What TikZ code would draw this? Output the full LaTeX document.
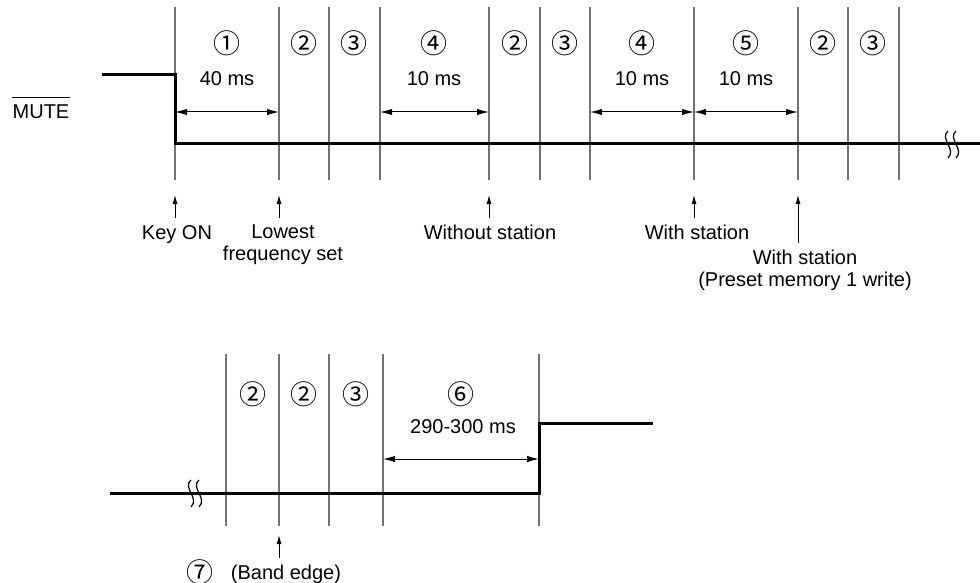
\documentclass[tikz,border=0pt]{standalone}
\usepackage{fontspec}
\setmainfont{Liberation Sans}
\newfontfamily\cjk{Noto Sans CJK JP}
\usetikzlibrary{arrows.meta}

\newcommand{\circnum}[1]{{\cjk\fontsize{13.5}{13.5}\selectfont #1}}

\begin{document}
\begin{tikzpicture}[x = 0.5pt, y = -0.5pt, font = \fontsize{10}{10.8}\selectfont,
	muteline/.style = {line width = 1.5pt},
	slotline/.style = {black!55, line width = 0.6pt},
	spanarrow/.style = {{Latex[length = 6pt, width = 3.2pt]}-{Latex[length = 6pt, width = 3.2pt]}, line width = 0.5pt},
	eventarrow/.style = {-{Latex[length = 4.5pt, width = 2.5pt]}, line width = 0.5pt},
	breakmark/.style = {line width = 0.6pt},
	eventtext/.style = {anchor = north, align = center}]

	\useasboundingbox (0, 0) rectangle (980, 583);

	% Upper chart: time slots
	
	\foreach \x [count = \i] in {175, 279, 329, 380, 489, 540, 590, 694, 798, 848, 899}
	{
		\draw [slotline] (\x, 7) -- (\x, 180);
		\coordinate (m\i) at (\x, 112);
		\coordinate (e\i) at (\x, 195);
	}
	
	% MUTE signal
	
	\node [inner xsep = 0] (mute) at (41, 112) {MUTE};
	\draw [line width = 0.5pt] (mute.north west) -- (mute.north east);
	
	\draw [muteline] (102, 75) -- (175, 75) -- (175, 144) -- (980, 144);
	
	\foreach \s in {948, 956}
		\draw [breakmark] (\s, 131) .. controls (\s - 9, 139) and (\s + 9, 149) .. (\s, 158);
	
	% Slot numbers + durations
	
	\foreach \x / \n in {227/①, 304/②, 354/③, 434/④, 515/②, 565/③, 642/④, 746/⑤, 823/②, 873/③}
		\node at (\x, 43) {\circnum{\n}};
	
	\node (d1) at (227, 79) {40 ms};
	\node (d4) at (434, 79) {10 ms};
	\node (d7) at (642, 79) {10 ms};
	\node (d8) at (746, 79) {10 ms};
	
	\draw [spanarrow] (m1) -- (m2);
	\draw [spanarrow] (m4) -- (m5);
	\draw [spanarrow] (m7) -- (m8);
	\draw [spanarrow] (m8) -- (m9);
	
	% Events
	
	\node [eventtext] (keyon) at (177, 218) {Key ON};
	\node [eventtext] (lowest) at (283, 218) {Lowest\\frequency set};
	\node [eventtext] (nostation) at (490, 218) {Without station};
	\node [eventtext] (station) at (697, 218) {With station};
	\node [eventtext] (preset) at (805, 243) {With station\\(Preset memory 1 write)};
	
	\draw [eventarrow] (keyon.north -| e1) -- (e1);
	\draw [eventarrow] (lowest.north -| e2) -- (e2);
	\draw [eventarrow] (nostation.north -| e5) -- (e5);
	\draw [eventarrow] (station.north -| e8) -- (e8);
	\draw [eventarrow] (preset.north -| e9) -- (e9);
	
	% Lower chart: time slots
	
	\foreach \x [count = \i] in {226, 279, 329, 383, 539}
	{
		\draw [slotline] (\x, 354) -- (\x, 526);
		\coordinate (n\i) at (\x, 459);
	}
	\coordinate (f2) at (279, 535);
	
	\draw [muteline] (110, 493) -- (539, 493) -- (539, 423) -- (653, 423);
	
	\foreach \s in {191, 199}
		\draw [breakmark] (\s, 480) .. controls (\s - 9, 488) and (\s + 9, 498) .. (\s, 507);
	
	\foreach \x / \n in {253/②, 304/②, 356/③, 461/⑥}
		\node at (\x, 394) {\circnum{\n}};
	
	\node (d6) at (463, 427) {290-300 ms};
	\draw [spanarrow] (n4) -- (n5);
	
	\node [eventtext] (bandedge) at (286, 558) {(Band edge)};
	\node [inner sep = 0.5pt] (seven) at (200, 572) {\circnum{⑦}};
	\draw [eventarrow] (bandedge.north -| f2) -- (f2);
	
\end{tikzpicture}
\end{document}
